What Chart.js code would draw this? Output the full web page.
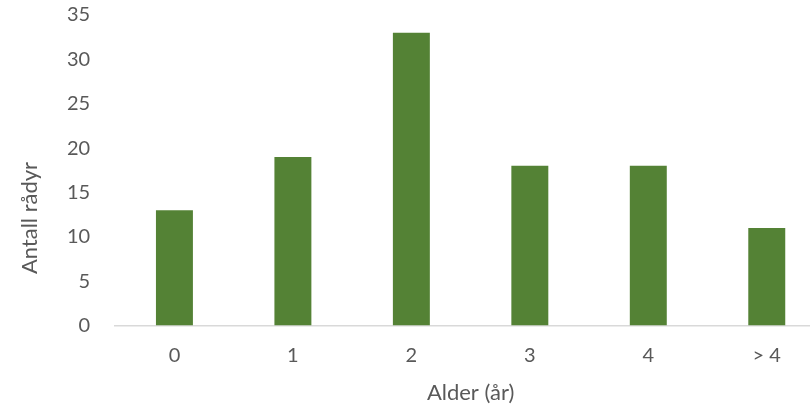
<!DOCTYPE html>
<html>
<head>
<meta charset="utf-8">
<script src="https://cdn.jsdelivr.net/npm/chart.js@4"></script>
<style>
  html, body { margin: 0; padding: 0; background: #fff; overflow: hidden; }
  canvas { display: block; }
</style>
</head>
<body>
<canvas id="chart" width="826" height="413"></canvas>
<script>
// aldersgrupper og antall dyr
const categories = ['0', '1', '2', '3', '4', '> 4'];
const counts = [13, 19, 33, 18, 18, 11];

const yMin = 0;
const yMax = 35;
const yStep = 5;

const textColor = '#595959';
const fontFamily = 'Lato, "Open Sans", sans-serif';

// y-aksetittelen står litt under midten, som i Excel-originalen
const yTitlePlugin = {
    id: 'yTitle',
    afterDraw(chart) {
        const c = chart.ctx;
        c.save();
        c.translate(30, 218);
        c.rotate(-Math.PI / 2);
        c.fillStyle = textColor;
        c.font = '22px ' + fontFamily;
        c.textAlign = 'center';
        c.textBaseline = 'middle';
        c.fillText('Antall rådyr', 0, 0);
        c.restore();
    }
};

document.addEventListener('DOMContentLoaded', () => {
    const ctx = document.getElementById('chart');

    new Chart(ctx, {
        type: 'bar',
        data: {
            labels: categories,
            datasets: [{
                label: 'Antall rådyr',
                data: counts,
                backgroundColor: '#548235',
                borderWidth: 0,
                categoryPercentage: 1,
                barPercentage: 0.312
            }]
        },
        plugins: [yTitlePlugin],
        options: {
            responsive: false,
            animation: false,
            layout: { padding: { top: 15, left: 42, right: 0, bottom: 7 } },
            plugins: {
                legend: { display: false },
                tooltip: { enabled: false }
            },
            scales: {
                x: {
                    grid: { display: false, drawTicks: false },
                    border: { display: true, color: '#d9d9d9', width: 1.5 },
                    ticks: {
                        color: textColor,
                        padding: 18,
                        font: { family: fontFamily, size: 20 }
                    },
                    title: {
                        display: true,
                        text: 'Alder (år)',
                        color: textColor,
                        padding: { top: -6, bottom: 0 },
                        font: { family: fontFamily, size: 22 }
                    }
                },
                y: {
                    min: yMin,
                    max: yMax,
                    grid: { display: false, drawTicks: false },
                    border: { display: false },
                    afterFit: (scale) => {
                        // toppen av plottet skal ligge helt oppe
                        scale.paddingTop = 0;
                    },
                    ticks: {
                        stepSize: yStep,
                        color: textColor,
                        padding: 25,
                        font: { family: fontFamily, size: 20 }
                    },
                    title: { display: false }
                }
            }
        }
    });
});
</script>
</body>
</html>
